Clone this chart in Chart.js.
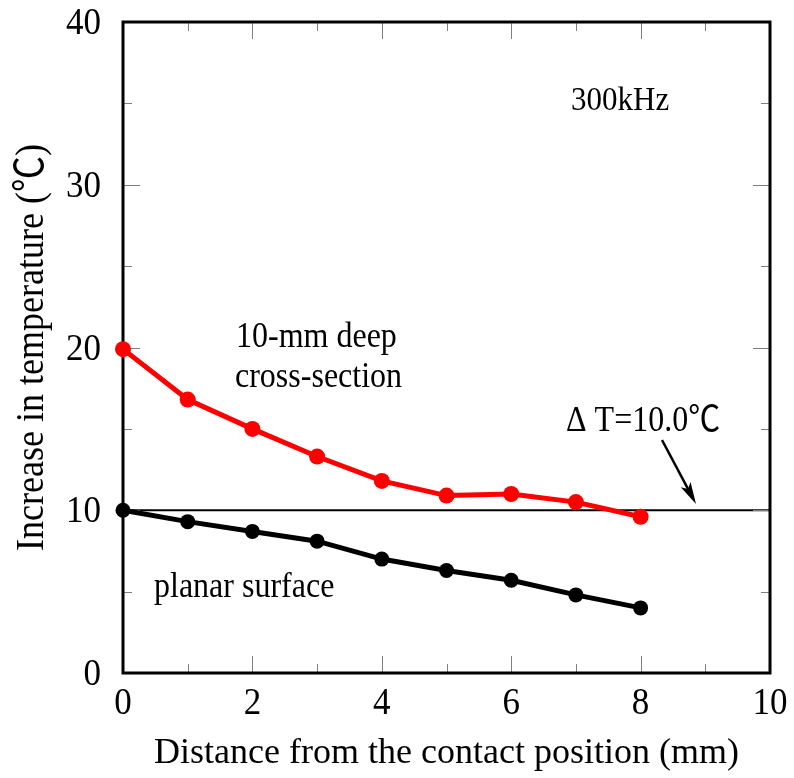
<!DOCTYPE html>
<html>
<head>
<meta charset="utf-8">
<script src="https://cdn.jsdelivr.net/npm/chart.js@4.4.1/dist/chart.umd.min.js"></script>
<style>
  html, body { margin: 0; padding: 0; background: #fff; }
  #wrap { width: 794px; height: 778px; }
</style>
</head>
<body>
<div id="wrap"><canvas id="temp-chart" width="794" height="778"></canvas></div>
<script>
// distance from contact position (mm)
const distances = [0, 1, 2, 3, 4, 5, 6, 7, 8];
// temperature increase (°C)
const deepSection = [19.9, 16.8, 15.0, 13.3, 11.8, 10.9, 11.0, 10.5, 9.6];
const planarSurface = [10.0, 9.3, 8.7, 8.1, 7.0, 6.3, 5.7, 4.8, 4.0];
const deltaT = 10.0;

const xTicks = [0, 2, 4, 6, 8, 10];
const xMinorTicks = [1, 3, 5, 7, 9];
const yTicks = [0, 10, 20, 30, 40];
const yMinorTicks = [5, 15, 25, 35];

const FONT = '"Liberation Serif", "Times New Roman", "Noto Sans CJK JP", serif';

const toPoints = (xs, ys) => xs.map((x, i) => ({ x: x, y: ys[i] }));

// text with a little vertical stretch, like the original figure
function stretchText(ctx, text, x, y, size, sy, align) {
  ctx.save();
  ctx.translate(x, y);
  ctx.scale(1, sy);
  ctx.font = size + "px " + FONT;
  ctx.textAlign = align || "left";
  ctx.textBaseline = "alphabetic";
  ctx.fillText(text, 0, 0);
  ctx.restore();
}

// frame, inward ticks, labels and annotations
const framePlugin = {
  id: "frame",
  beforeDatasetsDraw(chart) {
    const { ctx, chartArea: a, scales } = chart;
    const x = scales.x, y = scales.y;
    ctx.save();

    // delta T reference line
    const yRef = y.getPixelForValue(deltaT);
    ctx.strokeStyle = "#000";
    ctx.lineWidth = 2;
    ctx.beginPath();
    ctx.moveTo(a.left, yRef);
    ctx.lineTo(a.right, yRef);
    ctx.stroke();

    // ticks pointing inward on all four sides
    ctx.strokeStyle = "#808080";
    ctx.lineWidth = 1;
    const tick = (vals, len) => {
      vals.forEach((v) => {
        const px = Math.round(x.getPixelForValue(v)) + 0.5;
        ctx.beginPath();
        ctx.moveTo(px, a.bottom); ctx.lineTo(px, a.bottom - len);
        ctx.moveTo(px, a.top); ctx.lineTo(px, a.top + len);
        ctx.stroke();
      });
    };
    const tickY = (vals, len) => {
      vals.forEach((v) => {
        const py = Math.round(y.getPixelForValue(v)) + 0.5;
        ctx.beginPath();
        ctx.moveTo(a.left, py); ctx.lineTo(a.left + len, py);
        ctx.moveTo(a.right, py); ctx.lineTo(a.right - len, py);
        ctx.stroke();
      });
    };
    tick(xTicks.slice(1, -1), 17);
    tick(xMinorTicks, 9);
    tickY(yTicks.slice(1, -1), 17);
    tickY(yMinorTicks, 9);

    // frame
    ctx.strokeStyle = "#000";
    ctx.lineWidth = 3;
    ctx.strokeRect(a.left, a.top, a.right - a.left, a.bottom - a.top);

    // tick labels
    ctx.fillStyle = "#000";
    xTicks.forEach((v) => {
      stretchText(ctx, String(v), x.getPixelForValue(v), 714, 35, 1.08, "center");
    });
    yTicks.forEach((v) => {
      stretchText(ctx, String(v), 101, y.getPixelForValue(v) + 12, 35, 1.08, "right");
    });

    // axis titles
    stretchText(ctx, "Distance from the contact position (mm)", (a.left + a.right) / 2, 763, 36, 1.0, "center");
    ctx.save();
    ctx.translate(43, (a.top + a.bottom) / 2);
    ctx.rotate(-Math.PI / 2);
    stretchText(ctx, "Increase in temperature (℃)", 0, 0, 36, 1.12, "center");
    ctx.restore();

    // annotations
    stretchText(ctx, "300kHz", 571, 110, 31, 1.1);
    stretchText(ctx, "10-mm deep", 236, 347, 32, 1.1);
    stretchText(ctx, "cross-section", 235, 387, 32, 1.1);
    stretchText(ctx, "planar surface", 154, 597, 32, 1.1);
    stretchText(ctx, "Δ T=10.0℃", 566, 431, 32, 1.1);

    // arrow to the reference line
    const x0 = 662, y0 = 440, x1 = 696, y1 = 504;
    const ang = Math.atan2(y1 - y0, x1 - x0);
    const c = Math.cos(ang), s = Math.sin(ang);
    ctx.lineWidth = 2.5;
    ctx.beginPath();
    ctx.moveTo(x0, y0);
    ctx.lineTo(x1 - 12 * c, y1 - 12 * s);
    ctx.stroke();
    ctx.beginPath();
    ctx.moveTo(x1, y1);
    ctx.lineTo(x1 - 22 * c + 5.5 * s, y1 - 22 * s - 5.5 * c);
    ctx.lineTo(x1 - 17 * c, y1 - 17 * s);
    ctx.lineTo(x1 - 22 * c - 5.5 * s, y1 - 22 * s + 5.5 * c);
    ctx.closePath();
    ctx.fill();

    ctx.restore();
  },
};

const ctx = document.getElementById("temp-chart");
new Chart(ctx, {
  type: "line",
  data: {
    datasets: [
      {
        label: "10-mm deep cross-section",
        data: toPoints(distances, deepSection),
        borderColor: "#ff0000",
        backgroundColor: "#ff0000",
        borderWidth: 5,
        pointRadius: 8,
        pointBorderWidth: 0,
        clip: false,
      },
      {
        label: "planar surface",
        data: toPoints(distances, planarSurface),
        borderColor: "#000000",
        backgroundColor: "#000000",
        borderWidth: 5,
        pointRadius: 7.5,
        pointBorderWidth: 0,
        clip: false,
      },
    ],
  },
  options: {
    responsive: false,
    animation: false,
    devicePixelRatio: 1,
    layout: { padding: { left: 123, right: 24, top: 22, bottom: 105 } },
    plugins: { legend: { display: false }, tooltip: { enabled: false } },
    scales: {
      x: { type: "linear", min: 0, max: 10, display: false },
      y: { type: "linear", min: 0, max: 40, display: false },
    },
  },
  plugins: [framePlugin],
});
</script>
</body>
</html>
